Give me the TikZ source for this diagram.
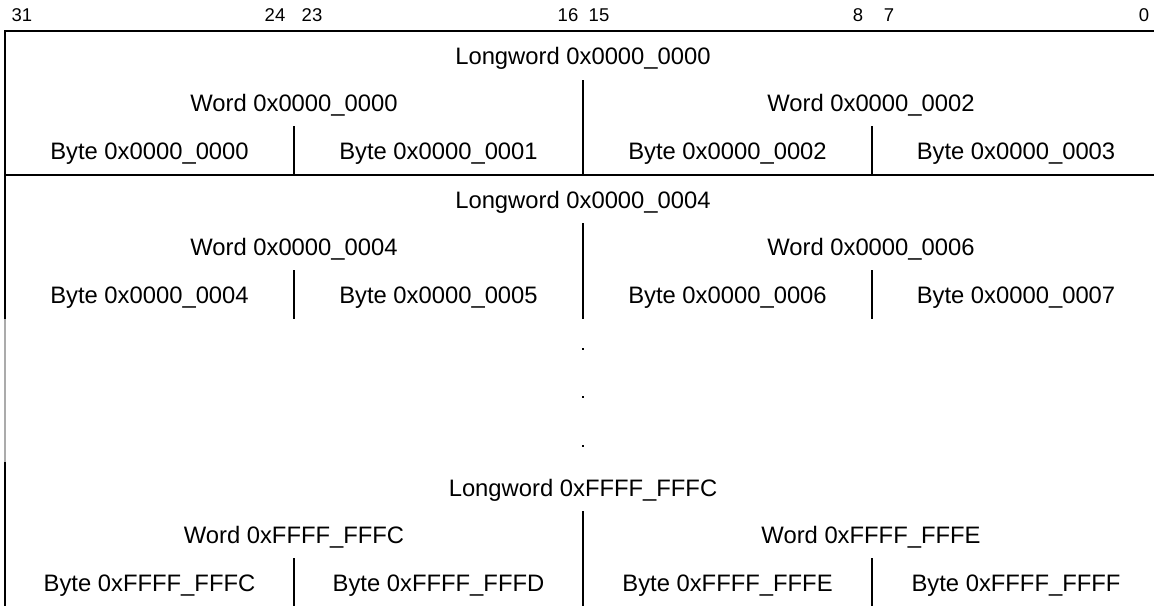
\documentclass[tikz,border=0pt]{standalone}
\usepackage{fontspec}
\setmainfont{Liberation Sans}
\begin{document}
\begin{tikzpicture}[x=1pt,y=-1pt,
  lbl/.style={anchor=base,inner sep=0pt,font=\fontsize{23.8}{26}\selectfont},
  bitlbl/.style={anchor=base,inner sep=0pt,font=\fontsize{18.5}{20}\selectfont},
  rule/.style={line width=2pt,black},
  grayrule/.style={line width=2pt,black!33},
  dotmark/.style={fill=black,minimum size=2.4pt,inner sep=0pt,draw=none}]
\useasboundingbox (0,0) rectangle (1154,606);
% bit numbers
\node[bitlbl] (b31) at (22,21) {31};
\node[bitlbl] (b24) at (275,21) {24};
\node[bitlbl] (b23) at (312,21) {23};
\node[bitlbl] (b16) at (568,21) {16};
\node[bitlbl] (b15) at (599,21) {15};
\node[bitlbl] (b8) at (858,21) {8};
\node[bitlbl] (b7) at (889,21) {7};
\node[bitlbl] (b0) at (1144,21) {0};
% frame lines
\draw[rule] (5,31) -- (1154,31);
\draw[rule] (5,175) -- (1154,175);
\draw[rule] (5,30) -- (5,319);
\draw[grayrule] (5,319) -- (5,462);
\draw[rule] (5,462) -- (5,606);
% row 1
\node[lbl] (l0) at (583,64) {Longword 0x0000\_0000};
\node[lbl] (w0) at (294,111) {Word 0x0000\_0000};
\node[lbl] (w2) at (871,111) {Word 0x0000\_0002};
\node[lbl] (y0) at (149.5,159) {Byte 0x0000\_0000};
\node[lbl] (y1) at (438.5,159) {Byte 0x0000\_0001};
\node[lbl] (y2) at (727.5,159) {Byte 0x0000\_0002};
\node[lbl] (y3) at (1016,159) {Byte 0x0000\_0003};
\draw[rule] (583,80) -- (583,175);
\draw[rule] (294,126) -- (294,175);
\draw[rule] (872,126) -- (872,175);
% row 2
\node[lbl] (l4) at (583,208) {Longword 0x0000\_0004};
\node[lbl] (w4) at (294,255) {Word 0x0000\_0004};
\node[lbl] (w6) at (871,255) {Word 0x0000\_0006};
\node[lbl] (y4) at (149.5,303) {Byte 0x0000\_0004};
\node[lbl] (y5) at (438.5,303) {Byte 0x0000\_0005};
\node[lbl] (y6) at (727.5,303) {Byte 0x0000\_0006};
\node[lbl] (y7) at (1016,303) {Byte 0x0000\_0007};
\draw[rule] (583,223) -- (583,319);
\draw[rule] (294,270) -- (294,319);
\draw[rule] (872,270) -- (872,319);
% dots
\node[dotmark] (d1) at (583,349) {};
\node[dotmark] (d2) at (583,397) {};
\node[dotmark] (d3) at (583,446) {};
% row 3
\node[lbl] (lc) at (583,496) {Longword 0xFFFF\_FFFC};
\node[lbl] (wc) at (294,543) {Word 0xFFFF\_FFFC};
\node[lbl] (we) at (871,543) {Word 0xFFFF\_FFFE};
\node[lbl] (yc) at (149.5,591) {Byte 0xFFFF\_FFFC};
\node[lbl] (yd) at (438.5,591) {Byte 0xFFFF\_FFFD};
\node[lbl] (ye) at (727.5,591) {Byte 0xFFFF\_FFFE};
\node[lbl] (yf) at (1016,591) {Byte 0xFFFF\_FFFF};
\draw[rule] (583,511) -- (583,606);
\draw[rule] (294,558) -- (294,606);
\draw[rule] (872,558) -- (872,606);
\end{tikzpicture}
\end{document}
